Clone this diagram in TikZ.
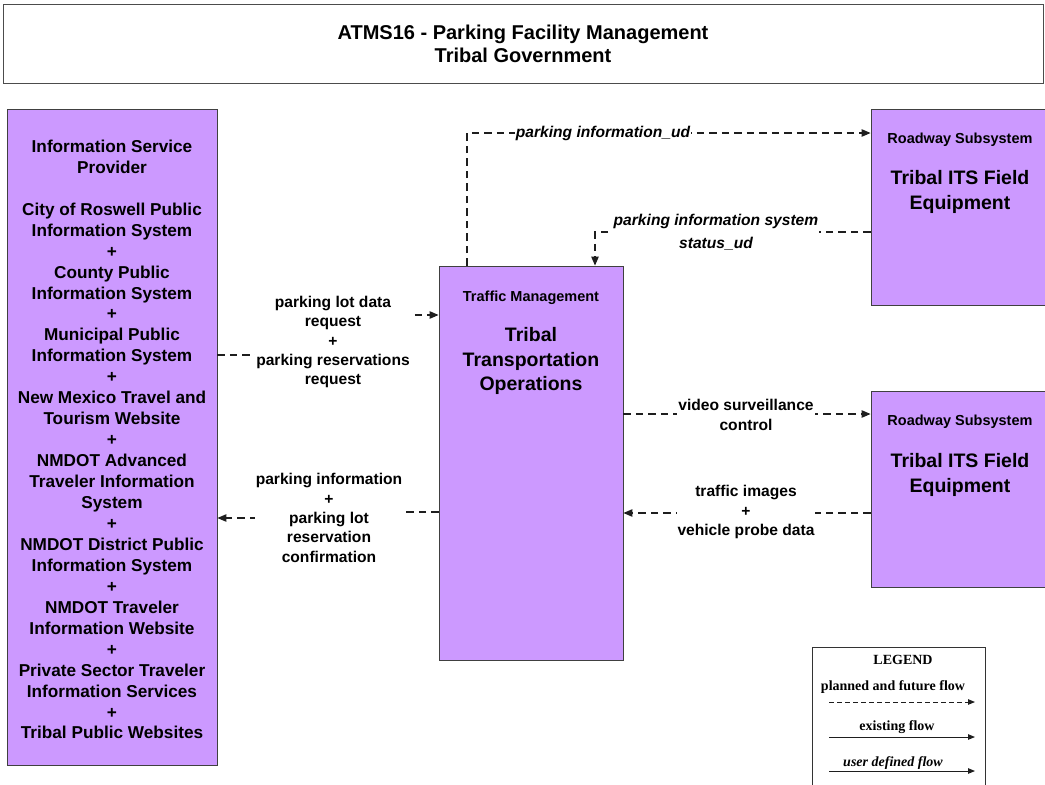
\documentclass[tikz,border=0pt]{standalone}
\usepackage{fontspec}
\setmainfont{Liberation Sans}
\newfontfamily\legfont{Liberation Serif}
\usetikzlibrary{arrows.meta, positioning}
\definecolor{sysfill}{RGB}{204,153,255}
\definecolor{flowcol}{RGB}{30,30,30}
\tikzset{
  sysbox/.style  ={draw=black!75, fill=sysfill, line width=0.9pt, inner sep=0pt},
  titlebox/.style={draw=black!70, line width=0.7pt, inner sep=0pt, align=center,
                   font=\fontsize{20pt}{23pt}\selectfont\bfseries},
  subsys/.style  ={inner sep=0pt, font=\fontsize{14.5pt}{16pt}\selectfont\bfseries},
  sysname/.style ={inner sep=0pt, align=center, font=\fontsize{19.5pt}{24.5pt}\selectfont\bfseries},
  listtxt/.style ={align=center, font=\fontsize{17.2pt}{20.95pt}\selectfont\bfseries},
  flowlbl/.style ={fill=white, inner sep=1pt, align=center, font=\fontsize{15.6pt}{19.3pt}\selectfont\bfseries},
  udlbl/.style   ={flowlbl, font=\fontsize{15.6pt}{23pt}\selectfont\bfseries\itshape},
  flow/.style    ={-{Triangle[length=9pt,width=7.5pt]}, flowcol, line width=1.1pt, dash pattern=on 7.5pt off 5pt},
  legtxt/.style  ={inner sep=0pt, font=\fontsize{14pt}{16pt}\legfont\bfseries},
  legarr/.style  ={-{Triangle[length=7pt,width=5.5pt]}, flowcol, line width=1pt},
}
\begin{document}
\begin{tikzpicture}[x=1pt, y=-1pt]
  \useasboundingbox (0,0) rectangle (1045,785);
  % title
  \node[titlebox, minimum width=1040pt, minimum height=79pt] (ttl) at (523,43.5)
    {ATMS16 - Parking Facility Management\\Tribal Government};
  % systems
  \node[sysbox, minimum width=210pt, minimum height=656pt] (isp) at (112,437) {};
  \node[listtxt] at (112,439.5)
    {Information Service\\Provider\\[20.95pt]
     City of Roswell Public\\Information System\\+\\
     County Public\\Information System\\+\\
     Municipal Public\\Information System\\+\\
     New Mexico Travel and\\Tourism Website\\+\\
     NMDOT Advanced\\Traveler Information\\System\\+\\
     NMDOT District Public\\Information System\\+\\
     NMDOT Traveler\\Information Website\\+\\
     Private Sector Traveler\\Information Services\\+\\
     Tribal Public Websites};
  \node[sysbox, minimum width=184pt, minimum height=394pt] (tto) at (531,463) {};
  \node[subsys]  at (531,298) {Traffic Management};
  \node[sysname] at (531,361) {Tribal\\Transportation\\Operations};
  \node[sysbox, minimum width=176pt, minimum height=196pt] (itsA) at (959,207) {};
  \node[subsys]  at (960,140) {Roadway Subsystem};
  \node[sysname] at (960,192) {Tribal ITS Field\\Equipment};
  \node[sysbox, minimum width=176pt, minimum height=196pt] (itsB) at (959,489) {};
  \node[subsys]  at (960,422) {Roadway Subsystem};
  \node[sysname] at (960,475) {Tribal ITS Field\\Equipment};
  % flows
  \coordinate (k1) at (467,133);
  \coordinate (k2) at (595,232);
  \coordinate (k3) at (333,355);
  \coordinate (k4) at (333,315);
  \coordinate (k5) at (329,512);
  \coordinate (k6) at (329,518);
  \coordinate (k7) at (746,414);
  \coordinate (k8) at (746,513);
  \draw[flow] (k1 |- tto.north) -- (k1) -- (k1 -| itsA.west);
  \node[udlbl] at (603,133) {parking information\_ud};
  \draw[flow] (k2 -| itsA.west) -- (k2) -- (k2 |- tto.north);
  \node[udlbl] at (716,232) {parking information system\\status\_ud};
  \draw[flow] (k3 -| isp.east) -- (k3) -- (k4) -- (k4 -| tto.west);
  \node[flowlbl] at (333,342) {parking lot data\\request\\+\\parking reservations\\request};
  \draw[flow] (k5 -| tto.west) -- (k5) -- (k6) -- (k6 -| isp.east);
  \node[flowlbl] at (329,518) {parking information\\+\\parking lot\\reservation\\confirmation};
  \draw[flow] (k7 -| tto.east) -- (k7 -| itsB.west);
  \node[flowlbl] at (746,415) {video surveillance\\control};
  \draw[flow] (k8 -| itsB.west) -- (k8 -| tto.east);
  \node[flowlbl] at (746,512) {traffic images\\+\\vehicle probe data};
  % legend
  \node[draw=black!80, line width=0.9pt, minimum width=173pt, minimum height=143pt] (leg) at (898.5,718.5) {};
  \node[legtxt] (lgT) at (903,660) {LEGEND};
  \node[legtxt] (lgP) at (893,687) {planned and future flow};
  \node[legtxt] (lgE) at (897,727) {existing flow};
  \node[legtxt] (lgU) at (893,763) {\itshape user defined flow};
  \coordinate (lp1) at (829,702);  \coordinate (lp2) at (975,702);
  \coordinate (le1) at (829,737);  \coordinate (le2) at (975,737);
  \coordinate (lu1) at (829,771);  \coordinate (lu2) at (975,771);
  \draw[legarr, dash pattern=on 4.5pt off 3.5pt] (lp1) -- (lp2);
  \draw[legarr] (le1) -- (le2);
  \draw[legarr] (lu1) -- (lu2);
\end{tikzpicture}
\end{document}
